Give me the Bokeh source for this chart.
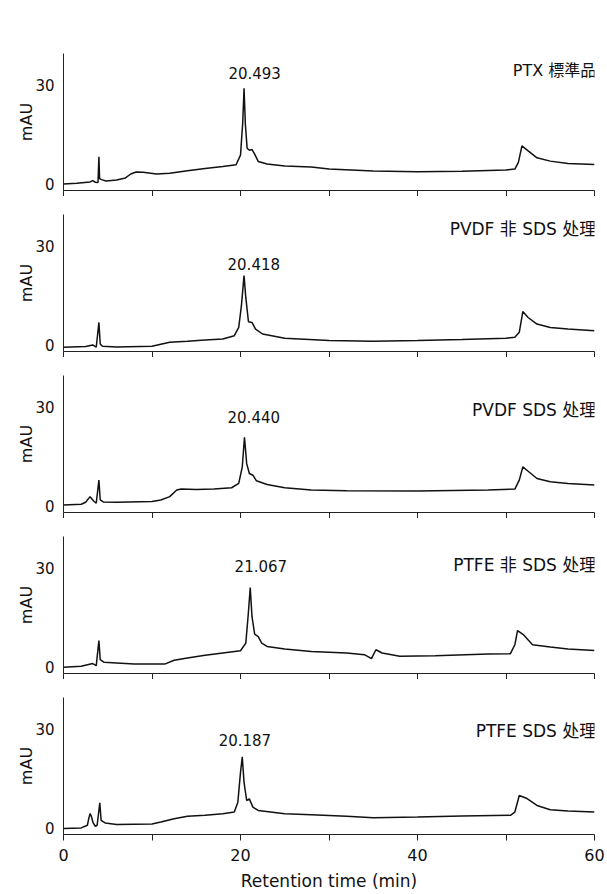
from bokeh.plotting import figure
from bokeh.layouts import column
from bokeh.models import FixedTicker, Range1d, ColumnDataSource, Label
from bokeh.embed import file_html
from bokeh.resources import INLINE

# ---------------- data ----------------
panel_titles = ["PTX 標準品", "PVDF 非 SDS 处理", "PVDF SDS 处理", "PTFE 非 SDS 处理", "PTFE SDS 处理"]
peak_times = ["20.493", "20.418", "20.440", "21.067", "20.187"]

time_ptx = [0, 1.5, 3.0, 3.3, 3.6, 3.9, 4.0, 4.08, 4.3, 4.8, 6.0, 7.0, 7.6, 8.2, 9.0, 10.5, 12, 14, 16, 18,
            19.5, 20.0, 20.25, 20.4, 20.55, 20.75, 21.0, 21.3, 21.6, 22.0, 23, 25, 28, 30, 35, 40, 45, 50,
            51.0, 51.4, 51.8, 52.5, 53.5, 55, 57, 60]
mau_ptx = [0.0, 0.2, 0.6, 1.0, 0.5, 0.4, 8.2, 1.6, 1.3, 0.9, 1.2, 1.8, 3.0, 3.6, 3.5, 3.0, 3.2, 4.0, 4.7, 5.3,
           5.8, 8.7, 18.5, 29.0, 18.0, 10.8, 10.2, 10.4, 9.0, 6.8, 6.0, 5.4, 5.1, 4.5, 3.9, 3.7, 3.8, 4.2,
           4.5, 6.5, 11.5, 10.0, 7.9, 6.9, 6.2, 5.9]

time_pvdf = [0, 2.5, 3.3, 3.7, 4.0, 4.15, 4.4, 6, 10, 12, 14, 16, 18, 19.3, 19.8, 20.1, 20.4, 20.6, 20.9,
             21.3, 21.7, 22.5, 25, 30, 35, 40, 45, 50, 51, 51.5, 51.9, 52.5, 53.5, 55, 57, 60]
mau_pvdf = [-0.7, -0.5, 0.0, -0.7, 6.8, 0.3, -0.4, -0.6, -0.4, 0.8, 1.1, 1.5, 1.8, 2.8, 5.3, 11.8, 21.0, 14.3, 7.0,
            6.8, 4.8, 3.3, 2.0, 1.3, 1.1, 1.3, 1.6, 2.0, 2.3, 3.8, 10.1, 8.3, 6.3, 5.3, 4.8, 4.3]

time_pvdf_sds = [0, 2, 2.5, 3.0, 3.4, 3.7, 4.0, 4.15, 4.5, 6, 10, 11, 12, 12.8, 13.3, 15, 17, 19, 19.8, 20.2,
                 20.45, 20.7, 21.0, 21.4, 21.8, 23, 25, 28, 32, 40, 48, 51, 51.5, 51.9, 52.5, 53.5, 55, 57, 60]
mau_pvdf_sds = [0.3, 0.5, 1.1, 2.8, 1.5, 0.8, 7.8, 1.8, 1.2, 1.1, 1.3, 1.8, 2.8, 4.8, 5.1, 5.0, 5.1, 5.5, 6.8, 11.8,
                20.8, 12.8, 9.8, 9.3, 7.6, 6.5, 5.5, 4.8, 4.6, 4.5, 4.8, 5.1, 7.8, 11.8, 10.5, 8.3, 7.3, 6.8, 6.3]

time_ptfe = [0, 2, 3.3, 3.7, 4.0, 4.15, 4.6, 6, 8, 11.5, 12.5, 14, 16, 18, 20, 20.6, 20.9, 21.1, 21.3, 21.6,
             22.0, 22.4, 23, 25, 28, 32, 34, 34.8, 35.3, 36, 38, 42, 48, 50.5, 51, 51.3, 52, 53, 55, 57, 60]
mau_ptfe = [-0.1, 0.2, 1.0, 0.4, 8.0, 2.2, 1.4, 1.2, 0.9, 0.9, 2.0, 2.7, 3.5, 4.2, 4.9, 7.2, 16.7, 24.0, 15.2, 9.9,
            9.2, 7.2, 6.2, 5.4, 4.7, 4.2, 3.7, 2.5, 5.2, 4.2, 3.2, 3.4, 3.9, 4.0, 6.7, 11.0, 9.7, 6.7, 6.0, 5.4, 5.0]

time_ptfe_sds = [0, 2, 2.7, 2.85, 3.0, 3.15, 3.35, 3.6, 3.8, 4.1, 4.25, 4.7, 6, 10, 11, 12.5, 14, 16, 18, 19.3,
                 19.7, 20.0, 20.2, 20.4, 20.7, 21.0, 21.4, 22, 25, 28, 32, 35, 40, 45, 50.5, 51, 51.5, 52.3,
                 53.5, 55, 57, 60]
mau_ptfe_sds = [-0.2, 0.0, 0.8, 2.8, 4.3, 3.5, 1.5, 0.5, 0.8, 7.6, 2.3, 1.5, 1.0, 1.2, 1.8, 2.8, 3.5, 3.8, 4.3, 4.8,
                7.8, 16.8, 21.5, 13.8, 8.3, 8.8, 6.3, 5.3, 4.3, 4.0, 3.5, 3.1, 3.3, 3.6, 3.8, 4.8, 9.8, 9.0,
                6.8, 5.5, 5.1, 4.8]

x_ticks = [0, 10, 20, 30, 40, 50, 60]
x_tick_labels = {0: "0", 10: "", 20: "20", 30: "", 40: "40", 50: "", 60: "60"}
y_ticks = [0, 30]

series = [(time_ptx, mau_ptx), (time_pvdf, mau_pvdf), (time_pvdf_sds, mau_pvdf_sds),
          (time_ptfe, mau_ptfe), (time_ptfe_sds, mau_ptfe_sds)]

# ---------------- layout / style ----------------
FONT = "DejaVu Sans, Noto Sans CJK SC"
peak_label_pos = [(21.6, 33.7), (21.5, 24.6), (21.5, 26.8), (22.3, 30.5), (20.5, 26.5)]
title_y = [34.2, 35.0, 29.0, 31.0, 29.5]
title_size = ["16px", "17px", "17px", "17px", "17px"]

figs = []
n = len(series)
for i, (t, y) in enumerate(series):
    first = i == 0
    last = i == n - 1
    p = figure(frame_width=531, frame_height=137,
               x_range=Range1d(0, 60), y_range=Range1d(-2, 39.5),
               output_backend="svg", toolbar_location=None,
               min_border_left=63, min_border_right=13,
               min_border_top=53 if first else 18,
               min_border_bottom=60 if last else 6)
    p.outline_line_color = None
    p.xgrid.visible = False
    p.ygrid.visible = False
    p.background_fill_color = "white"
    p.border_fill_color = "white"

    src = ColumnDataSource(dict(t=t, y=y))
    p.line("t", "y", source=src, line_color="#111111", line_width=1.5)

    xa = p.xaxis[0]
    xa.axis_line_color = "#222222"
    xa.major_tick_line_color = "#222222"
    xa.minor_tick_line_color = "#222222"
    xa.major_tick_in = 0
    xa.major_tick_out = 6
    xa.minor_tick_in = 0
    xa.minor_tick_out = 6
    if last:
        xa.ticker = FixedTicker(ticks=x_ticks, minor_ticks=[])
        xa.major_label_overrides = x_tick_labels
        xa.major_label_text_font = FONT
        xa.major_label_text_font_size = "16px"
        xa.major_label_text_color = "#111111"
        xa.major_label_standoff = 8
        xa.axis_label = "Retention time (min)"
        xa.axis_label_text_font = FONT
        xa.axis_label_text_font_size = "17px"
        xa.axis_label_text_font_style = "normal"
        xa.axis_label_text_color = "#111111"
        xa.axis_label_standoff = 7
    else:
        # tick marks only, no tick labels
        xa.ticker = FixedTicker(ticks=[], minor_ticks=x_ticks)
        xa.major_label_standoff = 0

    ya = p.yaxis[0]
    ya.ticker = FixedTicker(ticks=y_ticks, minor_ticks=[])
    ya.minor_tick_line_color = None
    ya.major_tick_in = 0
    ya.major_tick_out = 0
    ya.axis_line_color = "#222222"
    ya.major_label_text_font = FONT
    ya.major_label_text_font_size = "15px"
    ya.major_label_text_color = "#111111"
    ya.major_label_standoff = 9
    ya.axis_label = "mAU"
    ya.axis_label_text_font = FONT
    ya.axis_label_text_font_size = "16px"
    ya.axis_label_text_font_style = "normal"
    ya.axis_label_text_color = "#111111"
    ya.axis_label_standoff = -4

    px_, py_ = peak_label_pos[i]
    p.add_layout(Label(x=px_, y=py_, text=peak_times[i], text_align="center",
                       text_baseline="middle", text_font=FONT, text_font_size="15px",
                       text_color="#111111"))
    p.add_layout(Label(x=60.2, y=title_y[i], text=panel_titles[i], text_align="right",
                       text_baseline="middle", text_font=FONT, text_font_size=title_size[i],
                       text_color="#111111"))
    figs.append(p)

layout = column(*figs, spacing=0)
open("out.html", "w").write(file_html(layout, INLINE))
